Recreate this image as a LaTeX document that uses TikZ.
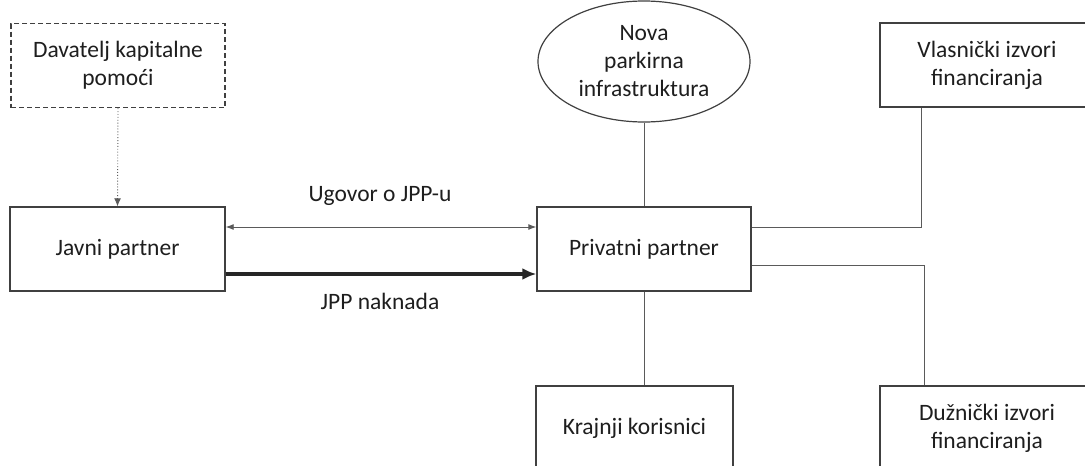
\documentclass[tikz,border=0pt]{standalone}
\usepackage{fontspec}
\setmainfont{Carlito}
\usetikzlibrary{shapes.geometric,arrows.meta,calc}
\definecolor{linec}{HTML}{404040}
\definecolor{connc}{HTML}{5A5A5A}
\definecolor{txtc}{HTML}{1E1E1E}
\tikzset{
  every node/.style={font=\fontsize{23.5}{28}\selectfont, text=txtc},
  boxnode/.style={draw=linec, line width=1.4pt, rectangle, inner sep=0pt, minimum width=214pt, minimum height=84pt, align=center},
  dashbox/.style={boxnode, dashed, dash pattern=on 5pt off 3pt},
  ovalnode/.style={draw=linec, line width=1.2pt, ellipse, inner sep=0pt, minimum width=212pt, minimum height=121pt, align=center},
  conn/.style={draw=connc, line width=0.9pt},
  thinarrow/.style={conn, {Latex[length=8pt,width=6pt]}-{Latex[length=8pt,width=6pt]}},
  thickarrow/.style={draw=black!85, line width=4pt, -{Latex[length=14pt,width=12pt]}},
  dotarrow/.style={draw=connc, line width=0.9pt, dotted, -{Latex[length=8pt,width=7pt]}},
  lbl/.style={inner sep=0pt}
}
\begin{document}
\begin{tikzpicture}[x=1pt,y=-1pt]
\useasboundingbox (0,0) rectangle (1085,466);
\clip (0,0) rectangle (1085,466);
\node[dashbox] (dav) at (118,65.5) {Davatelj kapitalne\\pomoći};
\node[boxnode, minimum width=215pt] (jav) at (117.5,249) {Javni partner};
\node[boxnode] (priv) at (644,249) {Privatni partner};
\node[ovalnode] (nova) at (644,61.5) {Nova\\parkirna\\infrastruktura};
\node[boxnode] (vlas) at (987,65) {Vlasnički izvori\\financiranja};
\node[boxnode, minimum width=197pt] (kraj) at (634.5,428) {Krajnji korisnici};
\node[boxnode] (duz) at (987,428) {Dužnički izvori\\financiranja};
\node[lbl] (ugov) at (380,196) {Ugovor o JPP-u};
\node[lbl] (nakn) at (380,301) {JPP naknada};
\draw[dotarrow] (dav.south) -- (jav.north);
\draw[thinarrow] ([yshift=22pt]jav.east) -- ([yshift=22pt]priv.west);
\draw[thickarrow] ([yshift=-25pt]jav.east) -- ([yshift=-25pt]priv.west);
\draw[conn] (nova.south) -- (priv.north);
\draw[conn] ([yshift=22pt]priv.east) -| ([xshift=-66pt]vlas.south);
\draw[conn] ([yshift=-16pt]priv.east) -| ([xshift=-63pt]duz.north);
\draw[conn] (priv.south) -- (priv.south |- kraj.north);
\end{tikzpicture}
\end{document}
